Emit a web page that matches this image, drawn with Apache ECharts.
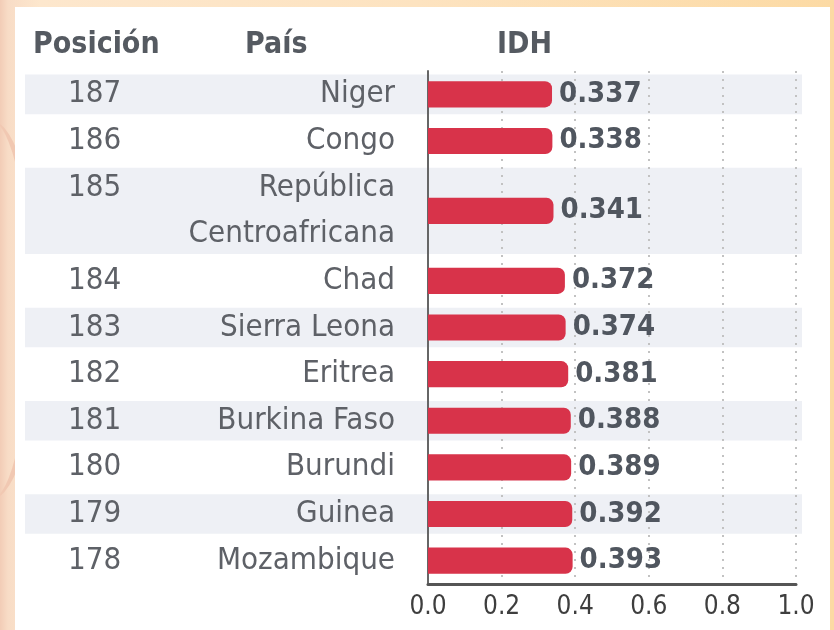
<!DOCTYPE html>
<html>
<head>
<meta charset="utf-8">
<script src="https://cdn.jsdelivr.net/npm/echarts@6/dist/echarts.min.js"></script>
<style>
html, body { margin: 0; padding: 0; }
body {
	width: 834px; height: 630px; overflow: hidden; position: relative;
	background: linear-gradient(90deg, #f2ccb6 0px, #f8dcc6 8px, #fde7cd 40px, #fde3c0 50%, #fcdaa4 100%);
}
#swirl {
	position: absolute; left: -60px; top: 120px; width: 90px; height: 380px;
	border-radius: 50%; border-right: 10px solid #f1c8b2;
}
#card { position: absolute; left: 15px; top: 7px; width: 815px; height: 623px; background: #fff; }
#chart { position: absolute; left: 0; top: 0; width: 834px; height: 630px; }
</style>
</head>
<body>
<div id="swirl"></div>
<div id="card"></div>
<div id="chart"></div>
<script>
var ranks = [187, 186, 185, 184, 183, 182, 181, 180, 179, 178];
var countries = ['Niger', 'Congo', 'República\nCentroafricana', 'Chad', 'Sierra Leona', 'Eritrea',
	'Burkina Faso', 'Burundi', 'Guinea', 'Mozambique'];
var idh = [0.337, 0.338, 0.341, 0.372, 0.374, 0.381, 0.388, 0.389, 0.392, 0.393];
var headers = ['Posición', 'País', 'IDH'];

var fontName = '"Liberation Sans Narrow", "DejaVu Sans Condensed", "Roboto", sans-serif';
var textColor = '#5e6167';

// cada línea del nombre ocupa una fila del eje; el rango solo en la primera
var nameSlots = [];
var rankSlots = [];
var rows = [];
for (var i = 0; i < countries.length; i++) {
	var lines = countries[i].split('\n');
	rows.push([idh[i], nameSlots.length, lines.length, i]);
	for (var k = 0; k < lines.length; k++) {
		nameSlots.push(lines[k]);
		rankSlots.push(k == 0 ? String(ranks[i]) : ' ');
	}
}

function rowCenter(api) {
	var a = api.coord([0, api.value(1)]);
	var b = api.coord([0, api.value(1) + api.value(2) - 1]);
	return (a[1] + b[1]) / 2;
}

var chart = echarts.init(document.getElementById('chart'));

var option = {
	animation: false,
	grid: { left: 428, right: 38, top: 71, bottom: 46 },
	graphic: [
		{ type: 'text', left: 33, top: 30, style: { text: headers[0], font: 'bold 30px ' + fontName, fill: '#555a61' } },
		{ type: 'text', left: 245, top: 30, style: { text: headers[1], font: 'bold 30px ' + fontName, fill: '#555a61' } },
		{ type: 'text', left: 497, top: 30, style: { text: headers[2], font: 'bold 30px ' + fontName, fill: '#555a61' } }
	],
	xAxis: {
		type: 'value', min: 0, max: 1, interval: 0.2, z: 3,
		axisLine: { show: true, lineStyle: { color: '#555', width: 3 } },
		axisTick: { show: false },
		splitLine: { show: true, lineStyle: { color: '#c2c2c2', width: 2, type: [2, 6] } },
		axisLabel: {
			margin: 10, fontSize: 26, fontFamily: fontName, color: '#3e3e3e',
			formatter: function(v) { return v.toFixed(1); }
		}
	},
	yAxis: [{
		type: 'category', data: nameSlots, inverse: true, z: 3,
		axisLine: { show: true, lineStyle: { color: '#666', width: 2 } },
		axisTick: { show: false },
		axisLabel: { interval: 0, margin: 33, fontSize: 31, fontFamily: fontName, color: textColor }
	}, {
		type: 'category', data: rankSlots, inverse: true, position: 'left', offset: 360,
		axisLine: { show: false },
		axisTick: { show: false },
		axisLabel: { interval: 0, margin: 0, align: 'left', fontSize: 31, fontFamily: fontName, color: textColor }
	}],
	series: [{
		// franjas alternas
		type: 'custom', z: 0, data: rows,
		renderItem: function(params, api) {
			if (api.value(3) % 2 == 1) return;
			var yc = rowCenter(api);
			var h = api.size([0, 1])[1] * api.value(2) - 7;
			var right = api.coord([1, 0])[0] + 6;
			return {
				type: 'rect',
				shape: { x: 25, y: yc - h / 2, width: right - 25, height: h },
				style: { fill: '#eef0f5' }
			};
		}
	}, {
		type: 'custom', z: 4, data: rows,
		renderItem: function(params, api) {
			var v = api.value(0);
			var yc = rowCenter(api);
			var x0 = api.coord([0, 0])[0];
			var x1 = api.coord([v, 0])[0];
			var bh = api.size([0, 1])[1] * 0.56;
			return {
				type: 'group',
				children: [{
					type: 'rect',
					shape: { x: x0, y: yc - bh / 2, width: x1 - x0, height: bh, r: [0, 7, 7, 0] },
					style: { fill: '#d8334a' }
				}, {
					type: 'text', x: x1 + 7, y: yc,
					style: {
						text: v.toFixed(3), font: 'bold 29px ' + fontName, fill: '#50565f',
						align: 'left', verticalAlign: 'middle'
					}
				}]
			};
		}
	}]
};

chart.setOption(option);
</script>
</body>
</html>
